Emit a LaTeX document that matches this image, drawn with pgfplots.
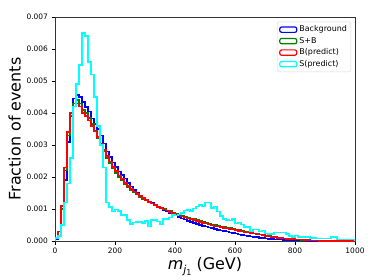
\documentclass[border=0pt]{standalone}
\usepackage{pgfplots}
\pgfplotsset{compat=1.18}
\usepackage{fontspec}
\setmainfont{DejaVu Sans}
\definecolor{mcyan}{RGB}{0,255,255}
\definecolor{mblue}{RGB}{0,0,255}
\definecolor{mgreen}{RGB}{0,128,0}
\definecolor{mred}{RGB}{255,0,0}
\begin{document}
\begin{tikzpicture}
\begin{axis}[
  name=ax,
  scale only axis,
  width=300bp, height=224bp,
  xmin=0, xmax=1000, ymin=0, ymax=0.007,
  xtick={0,200,400,600,800,1000},
  ytick={0,0.001,0.002,0.003,0.004,0.005,0.006,0.007},
  scaled y ticks=false,
  yticklabel style={/pgf/number format/.cd,fixed,fixed zerofill,precision=3,assume math mode=true},
  xticklabel style={/pgf/number format/.cd,assume math mode=true,1000 sep={}},
  ticklabel style={font=\fontsize{7.5}{9}\selectfont},
  tick align=outside,
  xtick pos=left, ytick pos=left,
  major tick length=3.5bp,
  tick style={black, line width=0.6pt},
  axis line style={line width=0.6pt, black!80},
  xlabel={\textit{m}\raisebox{-0.45ex}{\fontsize{11}{13}\selectfont\textit{j}\raisebox{-0.35ex}{\fontsize{8}{9}\selectfont 1}} (GeV)},
  ylabel={Fraction of events},
  label style={font=\fontsize{16}{18}\selectfont},
  xlabel style={yshift=3bp},
  ylabel style={yshift=-1bp},
  const plot,
  every axis plot/.append style={line width=1.5bp},
  legend style={at={(0.987,0.979)}, anchor=north east, font=\fontsize{8}{9}\selectfont,
    draw=black!15, rounded corners=2pt, row sep=0bp, inner sep=2pt},
  legend cell align=left,
  legend image code/.code={\draw[#1, line width=1.2bp, fill=none] (0bp,-2.7bp) rectangle (17bp,2.7bp);},
]
\addplot[mblue] table {
0 0
0 0.00005
10 0.0003
20 0.0010
30 0.0019
40 0.0031
50 0.0040
60 0.00446
70 0.00456
80 0.0045
90 0.00435
100 0.00418
110 0.00404
120 0.00383
130 0.00366
140 0.0035
150 0.0033
160 0.00305
170 0.0028
180 0.00263
190 0.00245
200 0.00232
210 0.00217
220 0.00206
230 0.00196
240 0.00182
250 0.0017
260 0.0016
270 0.0015
280 0.00142
290 0.00136
300 0.0013
310 0.00124
320 0.00118
330 0.00112
340 0.00107
350 0.00102
360 0.00097
370 0.00092
380 0.00087
390 0.00083
400 0.00079
410 0.00075
420 0.00071
430 0.00067
440 0.00063
450 0.0006
460 0.00056
470 0.00053
480 0.0005
490 0.00047
500 0.00045
510 0.00042
520 0.0004
530 0.00038
540 0.00035
550 0.00033
560 0.00031
570 0.00029
580 0.00027
590 0.00025
600 0.00023
610 0.00021
620 0.00019
630 0.00017
640 0.00016
650 0.00014
660 0.00013
670 0.00012
680 0.0001
690 0.00009
700 0.00008
710 0.00007
720 0.00006
730 0.00005
740 0.00004
750 0.00004
760 0.00003
770 0.00003
780 0.00002
790 0.00002
800 0.00002
810 0.00001
820 0.00001
830 0.00001
840 0.000005
850 0
1000 0
};
\addlegendentry{Background}
\addplot[mgreen] table {
0 0
0 0.0001
10 0.0003
20 0.0010
30 0.0022
40 0.0033
50 0.0039
60 0.0043
70 0.0044
80 0.0043
90 0.0041
100 0.0040
110 0.00385
120 0.00365
130 0.00345
140 0.00322
150 0.003
160 0.0028
170 0.0026
180 0.00243
190 0.00227
200 0.00213
210 0.002
220 0.00189
230 0.00178
240 0.00169
250 0.0016
260 0.00152
270 0.00145
280 0.00138
290 0.00132
300 0.00127
310 0.00122
320 0.00117
330 0.00112
340 0.00108
350 0.00104
360 0.001
370 0.00096
380 0.00093
390 0.00089
400 0.00086
410 0.00083
420 0.0008
430 0.00077
440 0.00074
450 0.00071
460 0.00068
470 0.00065
480 0.00062
490 0.0006
500 0.00057
510 0.00055
520 0.00052
530 0.0005
540 0.00048
550 0.00046
560 0.00044
570 0.00042
580 0.0004
590 0.00038
600 0.00036
610 0.00034
620 0.00032
630 0.0003
640 0.00028
650 0.00026
660 0.00024
670 0.00022
680 0.0002
690 0.00018
700 0.00016
710 0.00015
720 0.00013
730 0.00012
740 0.0001
750 0.00009
760 0.00008
770 0.00007
780 0.00006
790 0.00005
800 0.00005
810 0.00004
820 0.00003
830 0.00003
840 0.00002
850 0.00002
860 0.00001
870 0.00001
880 0
1000 0
};
\addlegendentry{S+B}
\addplot[mred] table {
0 0
0 0.0001
10 0.0003
20 0.0011
30 0.0023
40 0.0034
50 0.0040
60 0.0042
70 0.0043
80 0.0042
90 0.0040
100 0.0039
110 0.00376
120 0.0036
130 0.00342
140 0.00325
150 0.00305
160 0.00285
170 0.00265
180 0.00248
190 0.00232
200 0.00218
210 0.00205
220 0.00193
230 0.00182
240 0.00172
250 0.00163
260 0.00155
270 0.00147
280 0.0014
290 0.00134
300 0.00128
310 0.00122
320 0.00117
330 0.00112
340 0.00107
350 0.00103
360 0.00099
370 0.00095
380 0.00091
390 0.00087
400 0.00083
410 0.0008
420 0.00077
430 0.00074
440 0.00071
450 0.00068
460 0.00065
470 0.00062
480 0.00059
490 0.00056
500 0.00054
510 0.00051
520 0.00049
530 0.00047
540 0.00045
550 0.00043
560 0.00041
570 0.00039
580 0.00037
590 0.00036
600 0.00034
610 0.00032
620 0.0003
630 0.00028
640 0.00027
650 0.00025
660 0.00023
670 0.00021
680 0.0002
690 0.00018
700 0.00016
710 0.00014
720 0.00013
730 0.00012
740 0.0001
750 0.00009
760 0.00008
770 0.00007
780 0.00006
790 0.00006
800 0.00005
810 0.00004
820 0.00004
830 0.00003
840 0.00003
850 0.00002
860 0.00002
870 0.00001
880 0
1000 0
};
\addlegendentry{B(predict)}
\addplot[mcyan] table {
0 0
0 0.0001
10 0.00015
20 0.0005
30 0.0012
40 0.0018
50 0.0026
60 0.0042
70 0.0049
80 0.0055
90 0.0065
100 0.0064
110 0.0056
120 0.0052
130 0.0045
140 0.0036
150 0.0030
160 0.0023
170 0.0012
180 0.00107
190 0.00092
200 0.00098
210 0.00094
220 0.00081
230 0.00081
240 0.00066
250 0.00053
260 0.00058
270 0.0006
280 0.0006
290 0.00057
300 0.00062
310 0.00045
320 0.00066
330 0.00066
340 0.00061
350 0.00052
360 0.00069
370 0.00069
380 0.00073
390 0.00081
400 0.00079
410 0.00083
420 0.00088
430 0.00095
440 0.00097
450 0.00093
460 0.00102
470 0.00108
480 0.00112
490 0.00108
500 0.0012
510 0.00121
520 0.00103
530 0.00108
540 0.00092
550 0.00078
560 0.00068
570 0.00066
580 0.00064
590 0.00068
600 0.00055
610 0.00058
620 0.00052
630 0.00043
640 0.00043
650 0.00029
660 0.00036
670 0.00036
680 0.0003
690 0.00033
700 0.00024
710 0.00022
720 0.00022
730 0.00026
740 0.00026
750 0.00026
760 0.00026
770 0.00022
780 0.00015
790 0.00013
800 0.00017
810 0.00013
820 0.00013
830 0.00013
840 0.00013
850 0.0001
860 0.0001
870 0.00008
880 0.00008
890 0.00008
900 0.00008
910 0.00008
920 0.00012
930 0.00012
940 0.00005
950 0.00005
960 0.00005
970 0.00005
980 0.00005
990 0.00005
1000 0.00005
1000 0
};
\addlegendentry{S(predict)}
\end{axis}
\path ([shift={(-55bp,-39bp)}]ax.south west) rectangle ([shift={(19bp,17bp)}]ax.north east);
\end{tikzpicture}
\end{document}
